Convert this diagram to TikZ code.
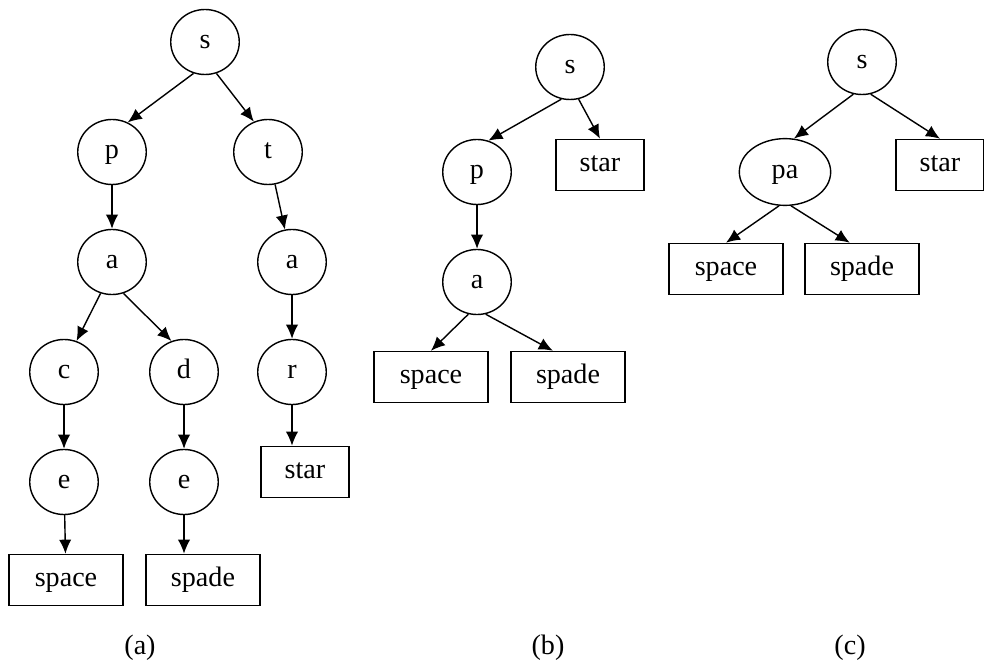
\documentclass[tikz,border=0pt]{standalone}
\usepackage{fontspec}
\setmainfont{Liberation Serif}
\usepackage{tikz}
\usetikzlibrary{arrows.meta}
\usetikzlibrary{shapes.geometric}

\begin{document}
\begin{tikzpicture}[x=0.02cm,y=-0.02cm,
  every node/.style={font=\fontsize{16}{18}\selectfont,text height=10pt,text depth=3pt},
  letter/.style={draw,ellipse,line width=0.8pt,inner sep=0pt,minimum width=39pt,minimum height=37pt},
  word/.style={draw,rectangle,line width=0.9pt,inner sep=0pt,minimum width=65pt,minimum height=29pt},
  edge/.style={line width=0.8pt,-{Latex[length=8pt,width=7pt]}}%
]
\useasboundingbox (0,0) rectangle (984,665);
% (a) full trie
\node[letter] (as)  at (205,42)  {s};
\node[letter] (ap)  at (112,152) {p};
\node[letter] (at)  at (268,152) {t};
\node[letter] (apa) at (112,262) {a};
\node[letter] (ata) at (292,262) {a};
\node[letter] (ac)  at (64,372)  {c};
\node[letter] (ad)  at (184,372) {d};
\node[letter] (ar)  at (292,372) {r};
\node[letter] (ace) at (64,482)  {e};
\node[letter] (ade) at (184,482) {e};
\node[word,minimum width=50pt] (astar)  at (305,472) {star};
\node[word] (aspace) at (66,580)  {space};
\node[word] (aspade) at (203,580) {spade};
\draw[edge] (as.250) -- (ap.62);
\draw[edge] (as.290) -- (at.115);
\draw[edge] (ap) -- (apa);
\draw[edge] (at) -- (ata);
\draw[edge] (apa.250) -- (ac.68);
\draw[edge] (apa.290) -- (ad.112);
\draw[edge] (ata) -- (ar);
\draw[edge] (ac) -- (ace);
\draw[edge] (ad) -- (ade);
\draw[edge] (ar) -- (ar |- astar.north);
\draw[edge] (ace) -- (aspace);
\draw[edge] (ade) -- (ade |- aspade.north);
\node (alab) at (140,648) {(a)};
% (b) suffix of star collapsed
\node[letter] (bs) at (570,67)  {s};
\node[letter] (bp) at (477,172) {p};
\node[letter] (ba) at (477,282) {a};
\node[word,minimum width=50pt] (bstar)  at (600,165) {star};
\node[word] (bspace) at (431,377) {space};
\node[word] (bspade) at (568,377) {spade};
\draw[edge] (bs.255) -- (bp.70);
\draw[edge] (bs.285) -- (bstar.north);
\draw[edge] (bp) -- (ba);
\draw[edge] (ba.255) -- (bspace.north);
\draw[edge] (ba.285) -- (bspade.120);
\node (blab) at (548,648) {(b)};
% (c) pa merged
\node[letter] (cs) at (862,62) {s};
\node[letter,minimum width=52pt,minimum height=38pt] (cpa) at (785,172) {pa};
\node[word,minimum width=50pt] (cstar)  at (940,165) {star};
\node[word] (cspace) at (726,269) {space};
\node[word] (cspade) at (862,269) {spade};
\draw[edge] (cs.255) -- (cpa.75);
\draw[edge] (cs.285) -- (cstar.north);
\draw[edge] (cpa.260) -- (cspace.north);
\draw[edge] (cpa.280) -- (cspade.115);
\node (clab) at (850,648) {(c)};
\end{tikzpicture}
\end{document}
